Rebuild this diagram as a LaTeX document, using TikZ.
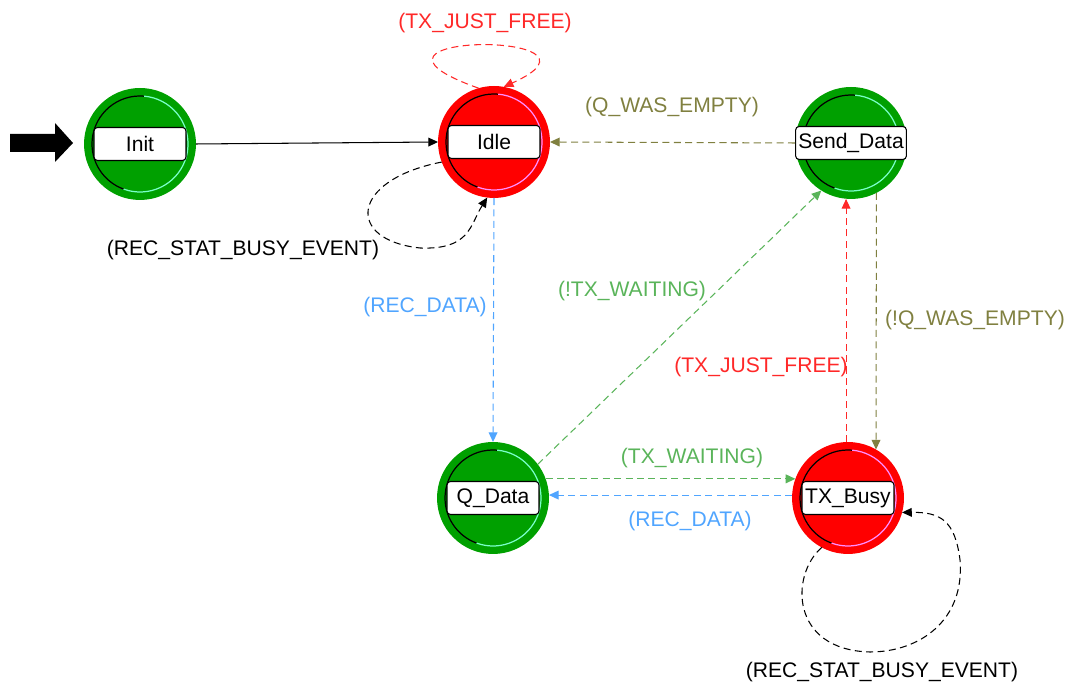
\documentclass[tikz,border=0pt]{standalone}
\usepackage{fontspec}
\setmainfont{Liberation Sans}
\usetikzlibrary{arrows.meta}
\definecolor{stgreen}{RGB}{0,160,0}
\definecolor{stred}{RGB}{255,0,0}
\definecolor{stcyan}{RGB}{120,255,200}
\definecolor{stpink}{RGB}{255,140,255}
\definecolor{lblred}{RGB}{255,40,40}
\definecolor{lblolive}{RGB}{128,128,64}
\definecolor{lblblue}{RGB}{80,165,255}
\definecolor{lblgreen}{RGB}{90,180,90}

\begin{document}
\begin{tikzpicture}[x=0.02cm,y=0.02cm,font=\fontsize{12}{14}\selectfont,
  state/.style={circle,minimum size=2.24cm,inner sep=0pt,outer sep=0pt},
  greenstate/.style={state,fill=stgreen,path picture={
    \draw[black,line width=0.7pt] ([shift={(85:48)}]path picture bounding box.center) arc[start angle=85,end angle=250,radius=48];
    \draw[stcyan,line width=0.7pt] ([shift={(250:48)}]path picture bounding box.center) arc[start angle=250,end angle=445,radius=48];}},
  redstate/.style={state,fill=stred,path picture={
    \draw[black,line width=0.7pt] ([shift={(85:48)}]path picture bounding box.center) arc[start angle=85,end angle=250,radius=48];
    \draw[stpink,line width=0.7pt] ([shift={(250:48)}]path picture bounding box.center) arc[start angle=250,end angle=445,radius=48];}},
  stlabel/.style={draw=black,fill=white,rounded corners=2pt,line width=0.6pt,minimum width=1.84cm,minimum height=0.66cm,inner xsep=1.5pt,inner ysep=0pt},
  trans/.style={line width=0.6pt,-{Triangle[length=5.5pt,width=5pt]}},
  dtrans/.style={trans,dash pattern=on 4pt off 2.5pt}]
\useasboundingbox (0,0) rectangle (1070,688);
\fill[black] (10,536)--(55,536)--(55,526)--(73,545)--(55,565)--(55,554)--(10,554)--cycle;
\node[greenstate] (init) at (140,544) {};
\node[redstate] (idle) at (494,546) {};
\node[greenstate] (send) at (851,545) {};
\node[greenstate] (qdata) at (493,190) {};
\node[redstate] (txbusy) at (848,190) {};
\node[stlabel] (initlbl) at (init) {Init};
\node[stlabel] (idlelbl) at (idle) {Idle};
\node[stlabel] (sendlbl) at (send) {Send\_Data};
\node[stlabel] (qdatalbl) at (qdata) {Q\_Data};
\node[stlabel] (txbusylbl) at (txbusy) {TX\_Busy};
\draw[trans,black] (init.east)--(idle.west);
\draw[dtrans,lblred] (idle.106) .. controls (320,656) and (630,658) .. (idle.80);
\node[lblred] (idleloopl) at (485,665) {(TX\_JUST\_FREE)};
\draw[dtrans,black] (idle.201) .. controls (350,508) and (345,448) .. (420,440) .. controls (470,438) and (470,463) .. (idle.263);
\node (idlebusyl) at (243,438) {(REC\_STAT\_BUSY\_EVENT)};
\draw[dtrans,lblolive] (send.west)--(idle.east);
\node[lblolive] (qemptyl) at (672,581) {(Q\_WAS\_EMPTY)};
\draw[dtrans,lblblue] (idle.south)--(qdata.north);
\node[lblblue] (recdatal) at (425,381) {(REC\_DATA)};
\draw[dtrans,lblgreen] (qdata.37)--(send.238);
\node[lblgreen] (ntxwaitl) at (632,397) {(!TX\_WAITING)};
\draw[dtrans,lblred] (txbusy.92)--(txbusy.92 |- send.south);
\node[lblred] (txfreel) at (761,321) {(TX\_JUST\_FREE)};
\draw[dtrans,lblolive] (send.-63)--(txbusy.60);
\node[lblolive] (nqemptyl) at (975,368) {(!Q\_WAS\_EMPTY)};
\draw[dtrans,lblgreen] (qdata.20)--(txbusy.160);
\node[lblgreen] (txwaitl) at (692,230) {(TX\_WAITING)};
\draw[dtrans,lblblue] (txbusy.177)--(qdata.3);
\node[lblblue] (recdata2l) at (690,167) {(REC\_DATA)};
\draw[dtrans,black] (txbusy.242) .. controls (790,113) and (790,38) .. (870,36) .. controls (920,36) and (965,68) .. (960,128) .. controls (955,168) and (940,176) .. (txbusy.-15);
\node (txbusyl) at (882,16) {(REC\_STAT\_BUSY\_EVENT)};
\end{tikzpicture}
\end{document}
